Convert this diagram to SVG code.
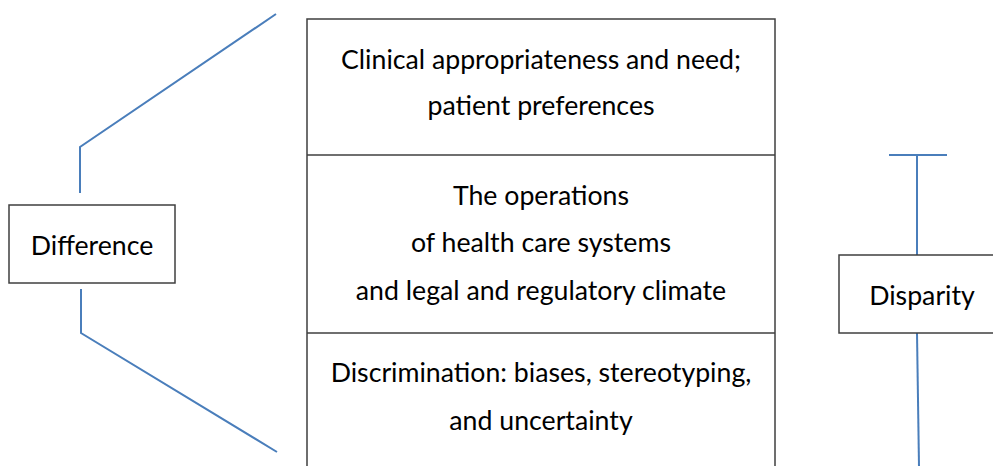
<svg xmlns="http://www.w3.org/2000/svg" width="993" height="466" viewBox="0 0 993 466">
<style>
.box{fill:#fff;stroke:#3f3f3f;stroke-width:1.5}
.div{stroke:#3f3f3f;stroke-width:1.5}
.con{fill:none;stroke:#4a7ebb;stroke-width:2}
text{font-family:Lato,"Open Sans","Liberation Sans",sans-serif;font-size:26.7px;fill:#000;text-anchor:middle}
</style>
<rect width="993" height="466" fill="#fff"/>
<g id="connectors">
<polyline class="con" points="80,193 80,147 276,14"/>
<polyline class="con" points="81,289 81,333 277,452"/>
<line class="con" x1="889" y1="155" x2="947" y2="155"/>
<line class="con" x1="917" y1="155" x2="917" y2="255"/>
<line class="con" x1="917" y1="333" x2="919" y2="466"/>
</g>
<g id="difference">
<rect class="box" x="9" y="205" width="166" height="78"/>
<text x="92" y="254.5">Difference</text>
</g>
<g id="factors">
<rect class="box" x="307" y="19" width="468" height="460"/>
<line class="div" x1="307" y1="155" x2="775" y2="155"/>
<line class="div" x1="307" y1="333" x2="775" y2="333"/>
</g>
<g id="clinical">
<text x="541" y="68.5">Clinical appropriateness and need;</text>
<text x="541" y="114.5">patient preferences</text>
</g>
<g id="operations">
<text x="541" y="204.5">The operations</text>
<text x="541" y="251.5">of health care systems</text>
<text x="541" y="299.5">and legal and regulatory climate</text>
</g>
<g id="discrimination">
<text x="541" y="381.5">Discrimination: biases, stereotyping,</text>
<text x="541" y="429.5">and uncertainty</text>
</g>
<g id="disparity">
<rect class="box" x="839" y="255" width="160" height="78"/>
<text x="922" y="304.5">Disparity</text>
</g>
</svg>
